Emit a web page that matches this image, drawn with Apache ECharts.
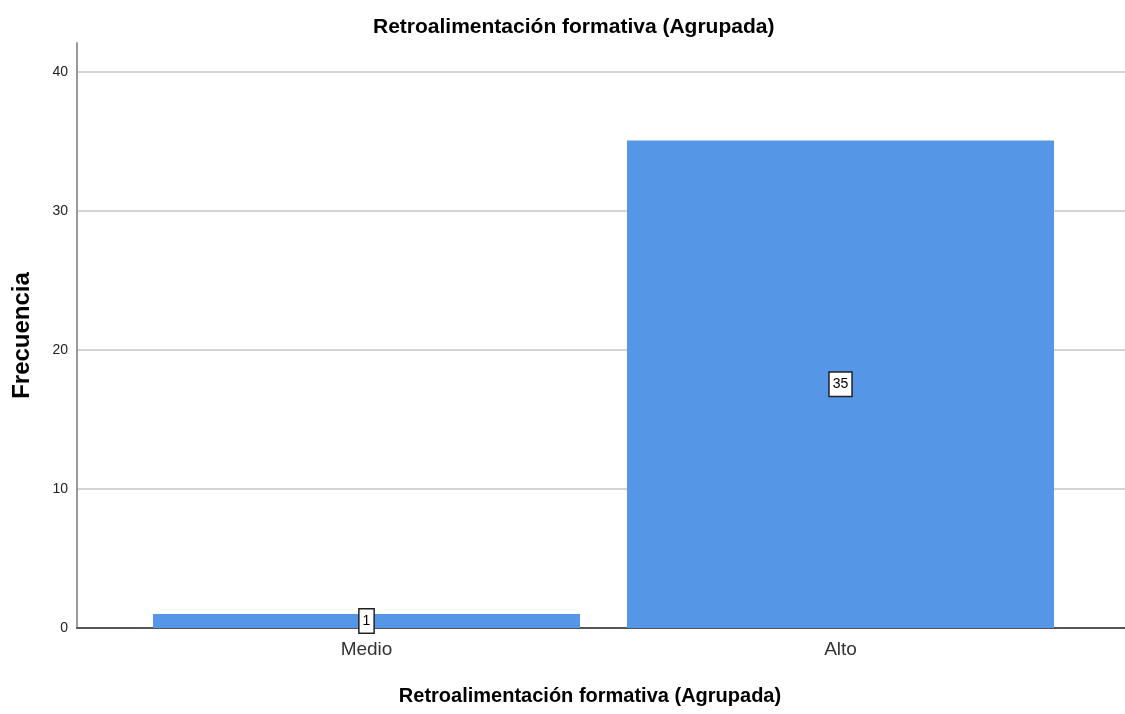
<!DOCTYPE html>
<html>
<head>
<meta charset="utf-8">
<script src="https://cdn.jsdelivr.net/npm/echarts@6/dist/echarts.min.js"></script>
<style>
  html, body { margin: 0; padding: 0; background: #fff; }
  #chart { width: 1125px; height: 714px; }
</style>
</head>
<body>
<div id="chart"></div>
<script>
  const categories = ['Medio', 'Alto'];
  const frecuencia = [1, 35];
  const yTicks = [0, 10, 20, 30, 40];

  const font = 'Arial, "Liberation Sans", sans-serif';
  const chart = echarts.init(document.getElementById('chart'));

  const option = {
    backgroundColor: '#fff',
    animation: false,
    title: {
      text: 'Retroalimentación formativa (Agrupada)',
      left: 368,
      top: 12,
      textStyle: { fontFamily: font, fontSize: 21, fontWeight: 'bold', color: '#000' }
    },
    grid: [
      // gridlines + tick labels (0..40)
      { left: 77, right: 0, top: 72, bottom: 86, outerBoundsMode: 'none' },
      // bars
      { left: 129.5, width: 948, top: 43, bottom: 86, outerBoundsMode: 'none' },
      // axis lines (extend to 42)
      { left: 77, right: 0, top: 43, bottom: 86, outerBoundsMode: 'none' }
    ],
    xAxis: [
      {
        gridIndex: 0, type: 'value', min: 0, max: 1, show: false
      },
      {
        gridIndex: 1, type: 'category', data: categories,
        axisLine: { show: false }, axisTick: { show: false },
        axisLabel: { fontFamily: font, fontSize: 19, color: '#333', margin: 12 }
      },
      {
        gridIndex: 2, type: 'value', min: 0, max: 1,
        axisLine: { show: true, lineStyle: { color: '#555', width: 2 } },
        axisTick: { show: false }, axisLabel: { show: false }, splitLine: { show: false },
        name: 'Retroalimentación formativa (Agrupada)',
        nameLocation: 'middle', nameGap: 58,
        nameTextStyle: { fontFamily: font, fontSize: 20, fontWeight: 'bold', color: '#000', padding: [0, 22, 0, 0] }
      }
    ],
    yAxis: [
      {
        gridIndex: 0, type: 'value', min: 0, max: 40, interval: 10,
        axisLine: { show: false },
        axisTick: { show: false },
        axisLabel: {
          fontFamily: font, fontSize: 14, color: '#222', margin: 9,
          formatter: v => yTicks.includes(v) ? String(v) : ''
        },
        splitLine: { show: true, lineStyle: { color: '#d4d4d4', width: 2 } }
      },
      {
        gridIndex: 1, type: 'value', min: 0, max: 42, show: false,
        splitLine: { show: false }
      },
      {
        gridIndex: 2, type: 'value', min: 0, max: 42,
        axisLine: { show: true, lineStyle: { color: '#999', width: 2 } },
        axisTick: { show: false }, axisLabel: { show: false }, splitLine: { show: false },
        name: 'Frecuencia', nameLocation: 'middle', nameGap: 43, nameRotate: 90,
        nameTextStyle: { fontFamily: font, fontSize: 24, fontWeight: 'bold', color: '#000' }
      }
    ],
    series: [
      {
        type: 'bar', xAxisIndex: 1, yAxisIndex: 1,
        data: frecuencia,
        barWidth: 427,
        z: 1,
        itemStyle: { color: '#5597e6' },
        label: {
          show: true, position: 'inside',
          fontFamily: font, fontSize: 14, color: '#000',
          backgroundColor: '#fff', borderColor: '#222', borderWidth: 1.5,
          padding: [5, 3, 4, 3]
        }
      }
    ]
  };
  chart.setOption(option);
</script>
</body>
</html>
